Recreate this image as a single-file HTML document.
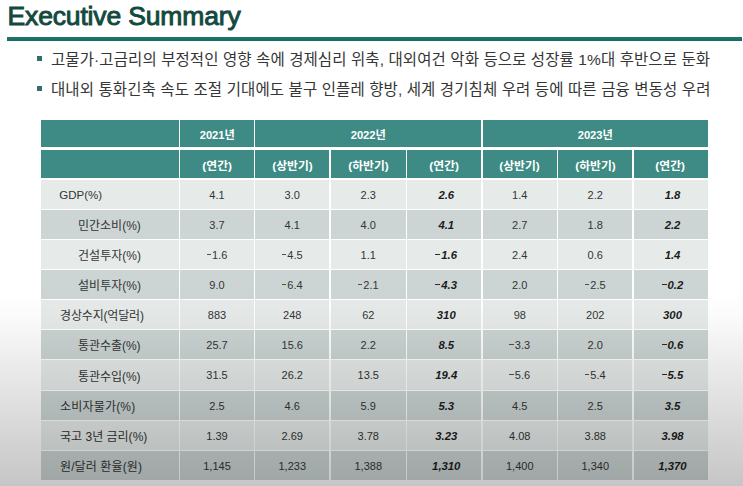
<!DOCTYPE html>
<html lang="ko"><head><meta charset="utf-8"><title>Executive Summary</title>
<style>

html,body{margin:0;padding:0}
body{width:743px;height:486px;background:#fff;position:relative;overflow:hidden;font-family:"Liberation Sans",sans-serif}
#page{position:absolute;left:0;top:0;width:743px;height:486px;overflow:hidden;background:#fff}
h1{position:absolute;left:7.5px;top:1.2px;margin:0;font-size:26.5px;line-height:30px;font-weight:normal;color:#14493f;-webkit-text-stroke:0.95px #14493f;letter-spacing:-0.15px;white-space:nowrap}
.rule{position:absolute;left:7px;top:37.35px;width:735px;height:3.95px;background:linear-gradient(to bottom,#27706a,#1a7569 45%,#126a5f)}
.b{position:absolute;left:37.2px;width:4.5px;height:5px;background:#2f6f69}
.t{position:absolute;display:block;overflow:visible}
.t svg{position:absolute;left:0;top:0;display:block;overflow:visible}
.t svg text{font-family:"Liberation Sans","Noto Sans CJK KR",sans-serif;white-space:pre}
.c{position:absolute}
.h{background:#3d8b84}
.l{background:#e6ebea}
.d{background:#ccd5d4}
.n{position:absolute;text-align:center;font-size:11px;line-height:14px;color:#343434;white-space:nowrap}
.n.k{font-weight:bold;font-style:italic;color:#1c1c1c;font-size:11.3px;padding-left:2px}
.m{display:inline-block;width:4.2px;height:1px;margin-right:1.3px;vertical-align:4px;background:#505050;overflow:hidden;color:transparent;font-size:1px;line-height:1px}
.k .m{height:1.25px;width:4.5px;background:#2a2a2a;vertical-align:3.9px;transform:skewX(-12deg)}
.lab{position:absolute;font-size:11.5px;line-height:14px;letter-spacing:0;color:#343434;white-space:nowrap}
#shade{position:absolute;left:0;top:286px;width:743px;height:200px;pointer-events:none;
 background:linear-gradient(to bottom,rgba(0,0,0,0) 2%,rgba(0,0,0,0.01) 12%,rgba(0,0,0,0.0275) 19.5%,rgba(0,0,0,0.078) 39.5%,rgba(0,0,0,0.125) 59.5%,rgba(0,0,0,0.176) 79.5%,rgba(0,0,0,0.225) 100%)}

</style></head><body><div id="page">
<h1>Executive Summary</h1><div class="rule"></div>
<div class="b" style="top:55.7px"></div>
<span class="t" style="left:48.90px;top:49.18px;width:663.10px;height:21.58px;font-size:16.6px"><svg width="663.10" height="21.58"><text x="2" y="15.9" font-size="15.5" fill="#363636" textLength="659.1">고물가·고금리의 부정적인 영향 속에 경제심리 위축, 대외여건 악화 등으로 성장률 1%대 후반으로 둔화</text></svg></span>
<div class="b" style="top:85.8px"></div>
<span class="t" style="left:49.30px;top:78.53px;width:663.45px;height:21.58px;font-size:16.6px"><svg width="663.45" height="21.58"><text x="2" y="15.9" font-size="15.5" fill="#363636" textLength="659.4">대내외 통화긴축 속도 조절 기대에도 불구 인플레 향방, 세계 경기침체 우려 등에 따른 금융 변동성 우려</text></svg></span>
<div class="c h" style="left:41.20px;top:119.50px;width:137.70px;height:27.80px"></div>
<div class="c h" style="left:180.10px;top:119.50px;width:73.80px;height:27.80px"></div>
<span class="t" style="left:197.75px;top:127.69px;width:38.50px;height:15.34px;font-size:11.8px"><svg width="38.50" height="15.34"><text x="19.25" y="11.2" font-size="11.2" font-weight="bold" fill="#ffffff" text-anchor="middle">2021년</text></svg></span>
<div class="c h" style="left:255.10px;top:119.50px;width:226.30px;height:27.80px"></div>
<span class="t" style="left:349.00px;top:127.69px;width:38.50px;height:15.34px;font-size:11.8px"><svg width="38.50" height="15.34"><text x="19.25" y="11.2" font-size="11.2" font-weight="bold" fill="#ffffff" text-anchor="middle">2022년</text></svg></span>
<div class="c h" style="left:482.60px;top:119.50px;width:225.40px;height:27.80px"></div>
<span class="t" style="left:575.75px;top:127.69px;width:38.50px;height:15.34px;font-size:11.8px"><svg width="38.50" height="15.34"><text x="19.25" y="11.2" font-size="11.2" font-weight="bold" fill="#ffffff" text-anchor="middle">2023년</text></svg></span>
<div class="c h" style="left:41.20px;top:150.00px;width:137.70px;height:28.40px"></div>
<div class="c h" style="left:180.10px;top:150.00px;width:73.80px;height:28.40px"></div>
<span class="t" style="left:199.85px;top:158.59px;width:34.30px;height:15.34px;font-size:11.8px"><svg width="34.30" height="15.34"><text x="17.15" y="11.2" font-size="11.8" font-weight="bold" fill="#ffffff" text-anchor="middle">(연간)</text></svg></span>
<div class="c h" style="left:255.10px;top:150.00px;width:74.30px;height:28.40px"></div>
<span class="t" style="left:269.75px;top:158.59px;width:45.00px;height:15.34px;font-size:11.8px"><svg width="45.00" height="15.34"><text x="22.5" y="11.2" font-size="11.8" font-weight="bold" fill="#ffffff" text-anchor="middle">(상반기)</text></svg></span>
<div class="c h" style="left:330.60px;top:150.00px;width:75.30px;height:28.40px"></div>
<span class="t" style="left:345.75px;top:158.59px;width:45.00px;height:15.34px;font-size:11.8px"><svg width="45.00" height="15.34"><text x="22.5" y="11.2" font-size="11.8" font-weight="bold" fill="#ffffff" text-anchor="middle">(하반기)</text></svg></span>
<div class="c h" style="left:407.10px;top:150.00px;width:74.30px;height:28.40px"></div>
<span class="t" style="left:427.10px;top:158.59px;width:34.30px;height:15.34px;font-size:11.8px"><svg width="34.30" height="15.34"><text x="17.15" y="11.2" font-size="11.8" font-weight="bold" fill="#ffffff" text-anchor="middle">(연간)</text></svg></span>
<div class="c h" style="left:482.60px;top:150.00px;width:74.30px;height:28.40px"></div>
<span class="t" style="left:497.25px;top:158.59px;width:45.00px;height:15.34px;font-size:11.8px"><svg width="45.00" height="15.34"><text x="22.5" y="11.2" font-size="11.8" font-weight="bold" fill="#ffffff" text-anchor="middle">(상반기)</text></svg></span>
<div class="c h" style="left:558.10px;top:150.00px;width:74.30px;height:28.40px"></div>
<span class="t" style="left:572.75px;top:158.59px;width:45.00px;height:15.34px;font-size:11.8px"><svg width="45.00" height="15.34"><text x="22.5" y="11.2" font-size="11.8" font-weight="bold" fill="#ffffff" text-anchor="middle">(하반기)</text></svg></span>
<div class="c h" style="left:633.60px;top:150.00px;width:74.40px;height:28.40px"></div>
<span class="t" style="left:653.35px;top:158.59px;width:34.30px;height:15.34px;font-size:11.8px"><svg width="34.30" height="15.34"><text x="17.15" y="11.2" font-size="11.8" font-weight="bold" fill="#ffffff" text-anchor="middle">(연간)</text></svg></span>
<div class="c l" style="left:41.20px;top:179.50px;width:137.70px;height:29.15px"></div>
<div class="c l" style="left:180.10px;top:179.50px;width:73.80px;height:29.15px"></div>
<div class="c l" style="left:255.10px;top:179.50px;width:74.30px;height:29.15px"></div>
<div class="c l" style="left:330.60px;top:179.50px;width:75.30px;height:29.15px"></div>
<div class="c l" style="left:407.10px;top:179.50px;width:74.30px;height:29.15px"></div>
<div class="c l" style="left:482.60px;top:179.50px;width:74.30px;height:29.15px"></div>
<div class="c l" style="left:558.10px;top:179.50px;width:74.30px;height:29.15px"></div>
<div class="c l" style="left:633.60px;top:179.50px;width:74.40px;height:29.15px"></div>
<div class="lab" style="left:59.300000000000004px;top:187.50px">GDP(%)</div>
<div class="n" style="left:179.5px;top:187.50px;width:75.0px">4.1</div>
<div class="n" style="left:254.5px;top:187.50px;width:75.5px">3.0</div>
<div class="n" style="left:330px;top:187.50px;width:76.5px">2.3</div>
<div class="n k" style="left:406.5px;top:187.50px;width:75.5px">2.6</div>
<div class="n" style="left:482px;top:187.50px;width:75.5px">1.4</div>
<div class="n" style="left:557.5px;top:187.50px;width:75.5px">2.2</div>
<div class="n k" style="left:633px;top:187.50px;width:75px">1.8</div>
<div class="c d" style="left:41.20px;top:209.65px;width:137.70px;height:29.15px"></div>
<div class="c d" style="left:180.10px;top:209.65px;width:73.80px;height:29.15px"></div>
<div class="c d" style="left:255.10px;top:209.65px;width:74.30px;height:29.15px"></div>
<div class="c d" style="left:330.60px;top:209.65px;width:75.30px;height:29.15px"></div>
<div class="c d" style="left:407.10px;top:209.65px;width:74.30px;height:29.15px"></div>
<div class="c d" style="left:482.60px;top:209.65px;width:74.30px;height:29.15px"></div>
<div class="c d" style="left:558.10px;top:209.65px;width:74.30px;height:29.15px"></div>
<div class="c d" style="left:633.60px;top:209.65px;width:74.40px;height:29.15px"></div>
<span class="t" style="left:76.00px;top:217.80px;width:66.80px;height:16.77px;font-size:12.9px"><svg width="66.80" height="16.77"><text x="2" y="12.4" font-size="12" fill="#343434" textLength="62.8">민간소비(%)</text></svg></span>
<div class="n" style="left:179.5px;top:217.65px;width:75.0px">3.7</div>
<div class="n" style="left:254.5px;top:217.65px;width:75.5px">4.1</div>
<div class="n" style="left:330px;top:217.65px;width:76.5px">4.0</div>
<div class="n k" style="left:406.5px;top:217.65px;width:75.5px">4.1</div>
<div class="n" style="left:482px;top:217.65px;width:75.5px">2.7</div>
<div class="n" style="left:557.5px;top:217.65px;width:75.5px">1.8</div>
<div class="n k" style="left:633px;top:217.65px;width:75px">2.2</div>
<div class="c l" style="left:41.20px;top:239.80px;width:137.70px;height:29.15px"></div>
<div class="c l" style="left:180.10px;top:239.80px;width:73.80px;height:29.15px"></div>
<div class="c l" style="left:255.10px;top:239.80px;width:74.30px;height:29.15px"></div>
<div class="c l" style="left:330.60px;top:239.80px;width:75.30px;height:29.15px"></div>
<div class="c l" style="left:407.10px;top:239.80px;width:74.30px;height:29.15px"></div>
<div class="c l" style="left:482.60px;top:239.80px;width:74.30px;height:29.15px"></div>
<div class="c l" style="left:558.10px;top:239.80px;width:74.30px;height:29.15px"></div>
<div class="c l" style="left:633.60px;top:239.80px;width:74.40px;height:29.15px"></div>
<span class="t" style="left:76.00px;top:247.94px;width:67.00px;height:16.77px;font-size:12.9px"><svg width="67.00" height="16.77"><text x="2" y="12.4" font-size="12" fill="#343434" textLength="63">건설투자(%)</text></svg></span>
<div class="n" style="left:179.5px;top:247.80px;width:75.0px"><i class="m">-</i>1.6</div>
<div class="n" style="left:254.5px;top:247.80px;width:75.5px"><i class="m">-</i>4.5</div>
<div class="n" style="left:330px;top:247.80px;width:76.5px">1.1</div>
<div class="n k" style="left:406.5px;top:247.80px;width:75.5px"><i class="m">-</i>1.6</div>
<div class="n" style="left:482px;top:247.80px;width:75.5px">2.4</div>
<div class="n" style="left:557.5px;top:247.80px;width:75.5px">0.6</div>
<div class="n k" style="left:633px;top:247.80px;width:75px">1.4</div>
<div class="c d" style="left:41.20px;top:269.95px;width:137.70px;height:29.15px"></div>
<div class="c d" style="left:180.10px;top:269.95px;width:73.80px;height:29.15px"></div>
<div class="c d" style="left:255.10px;top:269.95px;width:74.30px;height:29.15px"></div>
<div class="c d" style="left:330.60px;top:269.95px;width:75.30px;height:29.15px"></div>
<div class="c d" style="left:407.10px;top:269.95px;width:74.30px;height:29.15px"></div>
<div class="c d" style="left:482.60px;top:269.95px;width:74.30px;height:29.15px"></div>
<div class="c d" style="left:558.10px;top:269.95px;width:74.30px;height:29.15px"></div>
<div class="c d" style="left:633.60px;top:269.95px;width:74.40px;height:29.15px"></div>
<span class="t" style="left:76.00px;top:278.09px;width:67.00px;height:16.77px;font-size:12.9px"><svg width="67.00" height="16.77"><text x="2" y="12.4" font-size="12" fill="#343434" textLength="63">설비투자(%)</text></svg></span>
<div class="n" style="left:179.5px;top:277.95px;width:75.0px">9.0</div>
<div class="n" style="left:254.5px;top:277.95px;width:75.5px"><i class="m">-</i>6.4</div>
<div class="n" style="left:330px;top:277.95px;width:76.5px"><i class="m">-</i>2.1</div>
<div class="n k" style="left:406.5px;top:277.95px;width:75.5px"><i class="m">-</i>4.3</div>
<div class="n" style="left:482px;top:277.95px;width:75.5px">2.0</div>
<div class="n" style="left:557.5px;top:277.95px;width:75.5px"><i class="m">-</i>2.5</div>
<div class="n k" style="left:633px;top:277.95px;width:75px"><i class="m">-</i>0.2</div>
<div class="c l" style="left:41.20px;top:300.10px;width:137.70px;height:29.15px"></div>
<div class="c l" style="left:180.10px;top:300.10px;width:73.80px;height:29.15px"></div>
<div class="c l" style="left:255.10px;top:300.10px;width:74.30px;height:29.15px"></div>
<div class="c l" style="left:330.60px;top:300.10px;width:75.30px;height:29.15px"></div>
<div class="c l" style="left:407.10px;top:300.10px;width:74.30px;height:29.15px"></div>
<div class="c l" style="left:482.60px;top:300.10px;width:74.30px;height:29.15px"></div>
<div class="c l" style="left:558.10px;top:300.10px;width:74.30px;height:29.15px"></div>
<div class="c l" style="left:633.60px;top:300.10px;width:74.40px;height:29.15px"></div>
<span class="t" style="left:57.70px;top:308.25px;width:88.00px;height:16.77px;font-size:12.9px"><svg width="88.00" height="16.77"><text x="2" y="12.4" font-size="12" fill="#343434" textLength="84">경상수지(억달러)</text></svg></span>
<div class="n" style="left:179.5px;top:308.10px;width:75.0px">883</div>
<div class="n" style="left:254.5px;top:308.10px;width:75.5px">248</div>
<div class="n" style="left:330px;top:308.10px;width:76.5px">62</div>
<div class="n k" style="left:406.5px;top:308.10px;width:75.5px">310</div>
<div class="n" style="left:482px;top:308.10px;width:75.5px">98</div>
<div class="n" style="left:557.5px;top:308.10px;width:75.5px">202</div>
<div class="n k" style="left:633px;top:308.10px;width:75px">300</div>
<div class="c d" style="left:41.20px;top:330.25px;width:137.70px;height:29.15px"></div>
<div class="c d" style="left:180.10px;top:330.25px;width:73.80px;height:29.15px"></div>
<div class="c d" style="left:255.10px;top:330.25px;width:74.30px;height:29.15px"></div>
<div class="c d" style="left:330.60px;top:330.25px;width:75.30px;height:29.15px"></div>
<div class="c d" style="left:407.10px;top:330.25px;width:74.30px;height:29.15px"></div>
<div class="c d" style="left:482.60px;top:330.25px;width:74.30px;height:29.15px"></div>
<div class="c d" style="left:558.10px;top:330.25px;width:74.30px;height:29.15px"></div>
<div class="c d" style="left:633.60px;top:330.25px;width:74.40px;height:29.15px"></div>
<span class="t" style="left:76.00px;top:338.39px;width:66.60px;height:16.77px;font-size:12.9px"><svg width="66.60" height="16.77"><text x="2" y="12.4" font-size="12" fill="#343434" textLength="62.6">통관수출(%)</text></svg></span>
<div class="n" style="left:179.5px;top:338.25px;width:75.0px">25.7</div>
<div class="n" style="left:254.5px;top:338.25px;width:75.5px">15.6</div>
<div class="n" style="left:330px;top:338.25px;width:76.5px">2.2</div>
<div class="n k" style="left:406.5px;top:338.25px;width:75.5px">8.5</div>
<div class="n" style="left:482px;top:338.25px;width:75.5px"><i class="m">-</i>3.3</div>
<div class="n" style="left:557.5px;top:338.25px;width:75.5px">2.0</div>
<div class="n k" style="left:633px;top:338.25px;width:75px"><i class="m">-</i>0.6</div>
<div class="c l" style="left:41.20px;top:360.40px;width:137.70px;height:29.15px"></div>
<div class="c l" style="left:180.10px;top:360.40px;width:73.80px;height:29.15px"></div>
<div class="c l" style="left:255.10px;top:360.40px;width:74.30px;height:29.15px"></div>
<div class="c l" style="left:330.60px;top:360.40px;width:75.30px;height:29.15px"></div>
<div class="c l" style="left:407.10px;top:360.40px;width:74.30px;height:29.15px"></div>
<div class="c l" style="left:482.60px;top:360.40px;width:74.30px;height:29.15px"></div>
<div class="c l" style="left:558.10px;top:360.40px;width:74.30px;height:29.15px"></div>
<div class="c l" style="left:633.60px;top:360.40px;width:74.40px;height:29.15px"></div>
<span class="t" style="left:76.00px;top:368.54px;width:66.60px;height:16.77px;font-size:12.9px"><svg width="66.60" height="16.77"><text x="2" y="12.4" font-size="12" fill="#343434" textLength="62.6">통관수입(%)</text></svg></span>
<div class="n" style="left:179.5px;top:368.40px;width:75.0px">31.5</div>
<div class="n" style="left:254.5px;top:368.40px;width:75.5px">26.2</div>
<div class="n" style="left:330px;top:368.40px;width:76.5px">13.5</div>
<div class="n k" style="left:406.5px;top:368.40px;width:75.5px">19.4</div>
<div class="n" style="left:482px;top:368.40px;width:75.5px"><i class="m">-</i>5.6</div>
<div class="n" style="left:557.5px;top:368.40px;width:75.5px"><i class="m">-</i>5.4</div>
<div class="n k" style="left:633px;top:368.40px;width:75px"><i class="m">-</i>5.5</div>
<div class="c d" style="left:41.20px;top:390.55px;width:137.70px;height:29.15px"></div>
<div class="c d" style="left:180.10px;top:390.55px;width:73.80px;height:29.15px"></div>
<div class="c d" style="left:255.10px;top:390.55px;width:74.30px;height:29.15px"></div>
<div class="c d" style="left:330.60px;top:390.55px;width:75.30px;height:29.15px"></div>
<div class="c d" style="left:407.10px;top:390.55px;width:74.30px;height:29.15px"></div>
<div class="c d" style="left:482.60px;top:390.55px;width:74.30px;height:29.15px"></div>
<div class="c d" style="left:558.10px;top:390.55px;width:74.30px;height:29.15px"></div>
<div class="c d" style="left:633.60px;top:390.55px;width:74.40px;height:29.15px"></div>
<span class="t" style="left:57.70px;top:398.69px;width:79.20px;height:16.77px;font-size:12.9px"><svg width="79.20" height="16.77"><text x="2" y="12.4" font-size="12" fill="#343434" textLength="75.2">소비자물가(%)</text></svg></span>
<div class="n" style="left:179.5px;top:398.55px;width:75.0px">2.5</div>
<div class="n" style="left:254.5px;top:398.55px;width:75.5px">4.6</div>
<div class="n" style="left:330px;top:398.55px;width:76.5px">5.9</div>
<div class="n k" style="left:406.5px;top:398.55px;width:75.5px">5.3</div>
<div class="n" style="left:482px;top:398.55px;width:75.5px">4.5</div>
<div class="n" style="left:557.5px;top:398.55px;width:75.5px">2.5</div>
<div class="n k" style="left:633px;top:398.55px;width:75px">3.5</div>
<div class="c l" style="left:41.20px;top:420.70px;width:137.70px;height:29.15px"></div>
<div class="c l" style="left:180.10px;top:420.70px;width:73.80px;height:29.15px"></div>
<div class="c l" style="left:255.10px;top:420.70px;width:74.30px;height:29.15px"></div>
<div class="c l" style="left:330.60px;top:420.70px;width:75.30px;height:29.15px"></div>
<div class="c l" style="left:407.10px;top:420.70px;width:74.30px;height:29.15px"></div>
<div class="c l" style="left:482.60px;top:420.70px;width:74.30px;height:29.15px"></div>
<div class="c l" style="left:558.10px;top:420.70px;width:74.30px;height:29.15px"></div>
<div class="c l" style="left:633.60px;top:420.70px;width:74.40px;height:29.15px"></div>
<span class="t" style="left:57.70px;top:428.84px;width:91.30px;height:16.77px;font-size:12.9px"><svg width="91.30" height="16.77"><text x="2" y="12.4" font-size="12" fill="#343434" textLength="87.3">국고 3년 금리(%)</text></svg></span>
<div class="n" style="left:179.5px;top:428.70px;width:75.0px">1.39</div>
<div class="n" style="left:254.5px;top:428.70px;width:75.5px">2.69</div>
<div class="n" style="left:330px;top:428.70px;width:76.5px">3.78</div>
<div class="n k" style="left:406.5px;top:428.70px;width:75.5px">3.23</div>
<div class="n" style="left:482px;top:428.70px;width:75.5px">4.08</div>
<div class="n" style="left:557.5px;top:428.70px;width:75.5px">3.88</div>
<div class="n k" style="left:633px;top:428.70px;width:75px">3.98</div>
<div class="c d" style="left:41.20px;top:450.85px;width:137.70px;height:29.15px"></div>
<div class="c d" style="left:180.10px;top:450.85px;width:73.80px;height:29.15px"></div>
<div class="c d" style="left:255.10px;top:450.85px;width:74.30px;height:29.15px"></div>
<div class="c d" style="left:330.60px;top:450.85px;width:75.30px;height:29.15px"></div>
<div class="c d" style="left:407.10px;top:450.85px;width:74.30px;height:29.15px"></div>
<div class="c d" style="left:482.60px;top:450.85px;width:74.30px;height:29.15px"></div>
<div class="c d" style="left:558.10px;top:450.85px;width:74.30px;height:29.15px"></div>
<div class="c d" style="left:633.60px;top:450.85px;width:74.40px;height:29.15px"></div>
<span class="t" style="left:57.70px;top:458.99px;width:85.90px;height:16.77px;font-size:12.9px"><svg width="85.90" height="16.77"><text x="2" y="12.4" font-size="12" fill="#343434" textLength="81.9">원/달러 환율(원)</text></svg></span>
<div class="n" style="left:179.5px;top:458.85px;width:75.0px">1,145</div>
<div class="n" style="left:254.5px;top:458.85px;width:75.5px">1,233</div>
<div class="n" style="left:330px;top:458.85px;width:76.5px">1,388</div>
<div class="n k" style="left:406.5px;top:458.85px;width:75.5px">1,310</div>
<div class="n" style="left:482px;top:458.85px;width:75.5px">1,400</div>
<div class="n" style="left:557.5px;top:458.85px;width:75.5px">1,340</div>
<div class="n k" style="left:633px;top:458.85px;width:75px">1,370</div>
<div id="shade"></div>
</div></body></html>
